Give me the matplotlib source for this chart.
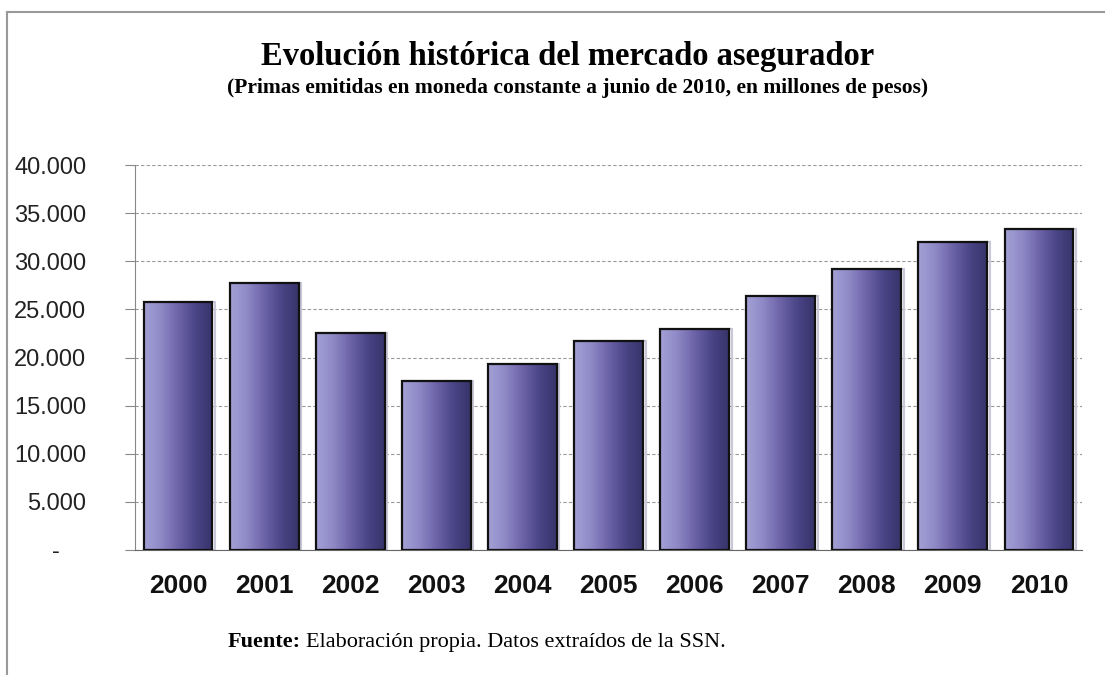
import matplotlib
matplotlib.use("Agg")
import matplotlib.pyplot as plt
import numpy as np
from matplotlib.colors import LinearSegmentedColormap
from matplotlib.patches import Rectangle
from matplotlib.lines import Line2D

years = ['2000', '2001', '2002', '2003', '2004', '2005', '2006', '2007', '2008', '2009', '2010']
primas = [25800, 27750, 22550, 17550, 19300, 21700, 22950, 26400, 29200, 32000, 33350]
yticks = [0, 5000, 10000, 15000, 20000, 25000, 30000, 35000, 40000]
ylabels = ['-    ', '5.000', '10.000', '15.000', '20.000', '25.000', '30.000', '35.000', '40.000']

W, H = 1105, 675
fig = plt.figure(figsize=(W / 100, H / 100), dpi=100)
ax = fig.add_axes([135 / W, 1 - 550 / H, (1082 - 135) / W, (550 - 165) / H])

# gradient for the bars, light on the left, dark on the right
cmap = LinearSegmentedColormap.from_list('bar', ['#a3a1d6', '#8f89c6', '#6c63a8', '#4a4586', '#37336a'])
grad = np.linspace(0, 1, 256).reshape(1, -1)

width = 0.8
x = np.arange(len(years))
for i, v in enumerate(primas):
    x0 = x[i] - width / 2
    # light bevel behind the bar
    ax.add_patch(Rectangle((x0 + 0.03, 0), width, v, facecolor='none',
                           edgecolor='#c8c8d8', lw=1.5, zorder=2))
    ax.imshow(grad, cmap=cmap, aspect='auto', extent=[x0, x0 + width, 0, v],
              zorder=3, interpolation='bilinear')
    ax.add_patch(Rectangle((x0, 0), width, v, facecolor='none',
                           edgecolor='#111111', lw=1.6, zorder=4))

ax.set_xlim(-0.5, len(years) - 0.5)
ax.set_ylim(0, 40000)
ax.set_yticks(yticks)
ax.set_yticklabels(ylabels, fontsize=17, family='Liberation Sans')
ax.set_xticks(x)
ax.set_xticklabels(years, fontsize=19, fontweight='bold', family='Liberation Sans')
ax.tick_params(axis='y', length=7, color='#888888', pad=28, labelcolor='#222222')
ax.tick_params(axis='x', length=0, pad=17, labelcolor='#111111')
ax.yaxis.grid(True, color='#999999', linestyle=(0, (3, 2)), lw=0.8)
ax.set_axisbelow(True)
for s in ['top', 'right']:
    ax.spines[s].set_visible(False)
ax.spines['left'].set_color('#888888')
ax.spines['bottom'].set_color('#666666')

# titles
fig.text(568 / W, 1 - 57 / H, 'Evolución histórica del mercado asegurador',
         ha='center', va='center', fontsize=23.5, fontweight='bold', family='Liberation Serif')
fig.text(578 / W, 1 - 88 / H,
         '(Primas emitidas en moneda constante a junio de 2010, en millones de pesos)',
         ha='center', va='center', fontsize=15.5, fontweight='bold', family='Liberation Serif')

# source note
t = fig.text(228 / W, 1 - 647 / H, 'Fuente:', ha='left', va='baseline',
             fontsize=16, fontweight='bold', family='Liberation Serif')
fig.canvas.draw()
bb = t.get_window_extent()
fig.text(bb.x1 / W + 5 / W, 1 - 647 / H, 'Elaboración propia. Datos extraídos de la SSN.',
         ha='left', va='baseline', fontsize=16, family='Liberation Serif')

# outer frame (left and top only)
fig.add_artist(Line2D([7 / W, 7 / W], [0, 1 - 12 / H], color='#999999', lw=1.5))
fig.add_artist(Line2D([7 / W, 1], [1 - 12 / H, 1 - 12 / H], color='#999999', lw=1.5))

fig.savefig('out.png', dpi=100)
